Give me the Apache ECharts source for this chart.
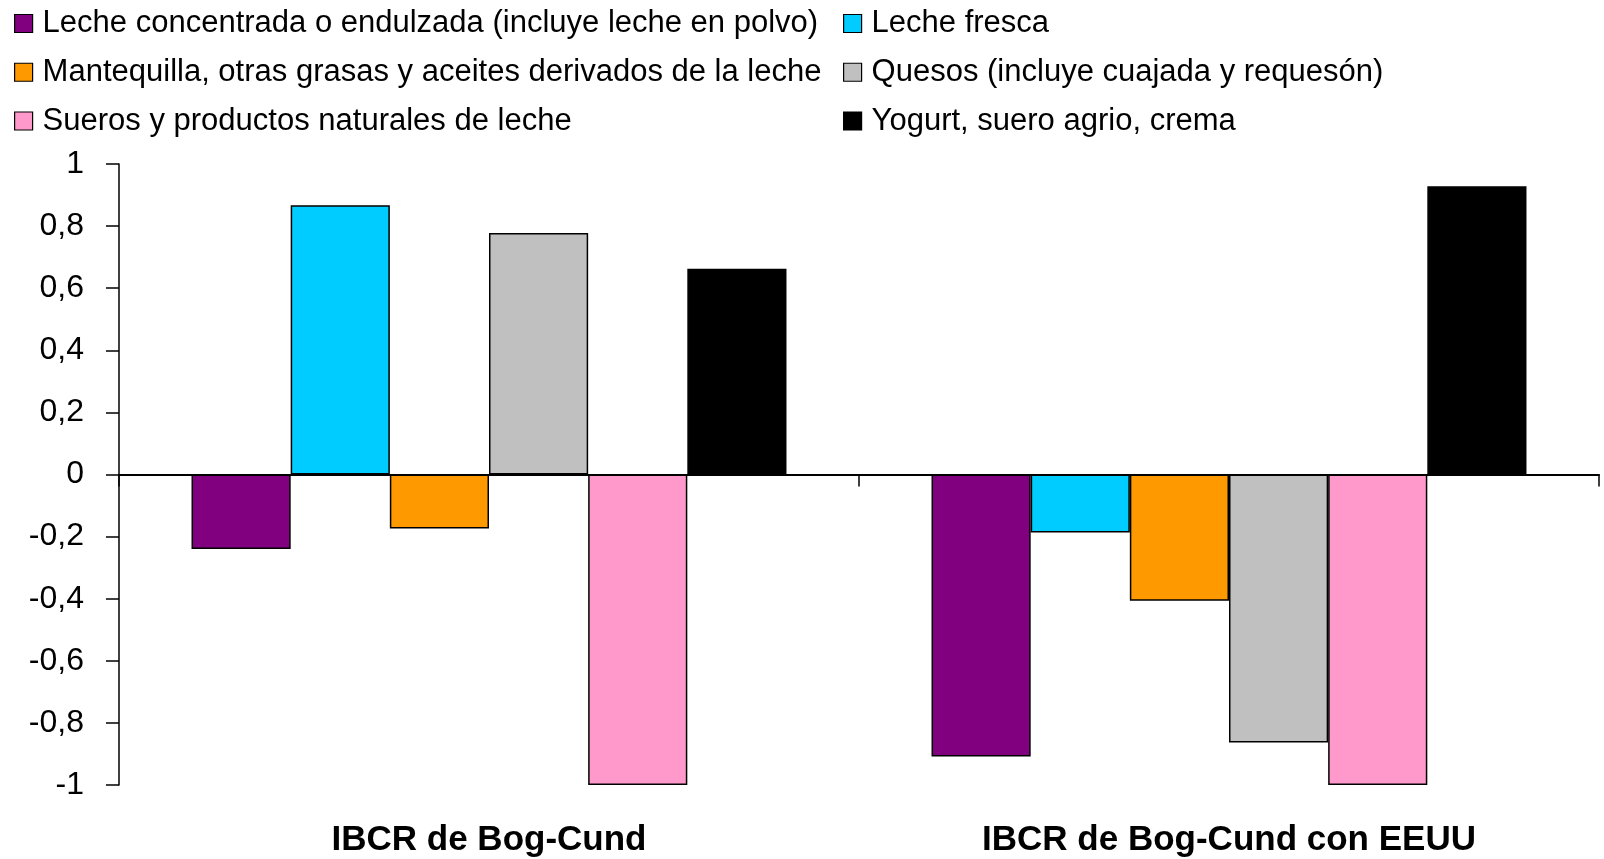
<!DOCTYPE html>
<html>
<head>
<meta charset="utf-8">
<script src="https://cdn.jsdelivr.net/npm/echarts@6/dist/echarts.min.js"></script>
<style>
  html, body { margin: 0; padding: 0; background: #fff; }
  #chart { width: 1604px; height: 859px; }
</style>
</head>
<body>
<div id="chart"></div>
<script>
// Regions compared
const categories = ['IBCR de Bog-Cund', 'IBCR de Bog-Cund con EEUU'];

// Product groups (series names, in drawing order)
const seriesNames = [
  'Leche concentrada o endulzada (incluye leche en polvo)',
  'Leche fresca',
  'Mantequilla, otras grasas y aceites derivados de la leche',
  'Quesos (incluye cuajada y requesón)',
  'Sueros y productos naturales de leche',
  'Yogurt, suero agrio, crema'
];

// Index values per product, one entry per region
const lecheConcentrada = [-0.24, -0.908];
const lecheFresca = [0.867, -0.187];
const mantequilla = [-0.174, -0.407];
const quesos = [0.778, -0.863];
const sueros = [-1, -1];
const yogurt = [0.663, 0.928];

const yTicks = { min: -1, max: 1, step: 0.2 };

const seriesValues = [lecheConcentrada, lecheFresca, mantequilla, quesos, sueros, yogurt];
const colors = ['#800080', '#00CCFF', '#FF9900', '#C0C0C0', '#FF99CC', '#000000'];

const font = 'Liberation Sans, Arial, sans-serif';

const chart = echarts.init(document.getElementById('chart'), null, { renderer: 'canvas' });

const legendBase = {
  orient: 'vertical',
  top: 8,
  padding: 0,
  icon: 'rect',
  itemWidth: 18,
  itemHeight: 18,
  itemGap: 17.75,
  selectedMode: false,
  itemStyle: { borderColor: '#000', borderWidth: 1.2 },
  textStyle: { fontFamily: font, fontSize: 31, color: '#000', lineHeight: 30, padding: [0, 0, 0, 5] }
};

chart.setOption({
  animation: false,
  backgroundColor: '#fff',
  color: colors,
  legend: [
    Object.assign({}, legendBase, { left: 14, data: [seriesNames[0], seriesNames[2], seriesNames[4]] }),
    Object.assign({}, legendBase, { left: 843, data: [seriesNames[1], seriesNames[3], seriesNames[5]] })
  ],
  grid: { left: 119, right: 5, top: 164, bottom: 74, containLabel: false },
  xAxis: [
    {
      type: 'category',
      data: categories,
      axisLine: { onZero: true, lineStyle: { color: '#000', width: 2 } },
      axisTick: { show: true, length: 12, lineStyle: { color: '#000', width: 1.5 } },
      axisLabel: { show: false }
    },
    {
      type: 'category',
      data: categories,
      position: 'bottom',
      axisLine: { show: false, onZero: false },
      axisTick: { show: false },
      axisLabel: {
        margin: 38,
        fontFamily: font, fontSize: 35, fontWeight: 'bold', color: '#000'
      }
    }
  ],
  yAxis: {
    type: 'value',
    min: yTicks.min,
    max: yTicks.max,
    interval: yTicks.step,
    axisLine: { show: true, lineStyle: { color: '#000', width: 1.5 } },
    axisTick: { show: true, length: 13, lineStyle: { color: '#000', width: 1.5 } },
    splitLine: { show: false },
    axisLabel: {
      margin: 35,
      fontFamily: font, fontSize: 32, color: '#000',
      formatter: v => {
        const r = Math.round(v * 10) / 10;
        return String(r).replace('.', ',');
      }
    }
  },
  series: seriesNames.map((name, i) => ({
    name,
    type: 'bar',
    xAxisIndex: 0,
    data: seriesValues[i],
    barGap: '0%',
    barCategoryGap: '19.6%',
    itemStyle: { color: colors[i], borderColor: '#000', borderWidth: 1.5 }
  }))
});
</script>
</body>
</html>
